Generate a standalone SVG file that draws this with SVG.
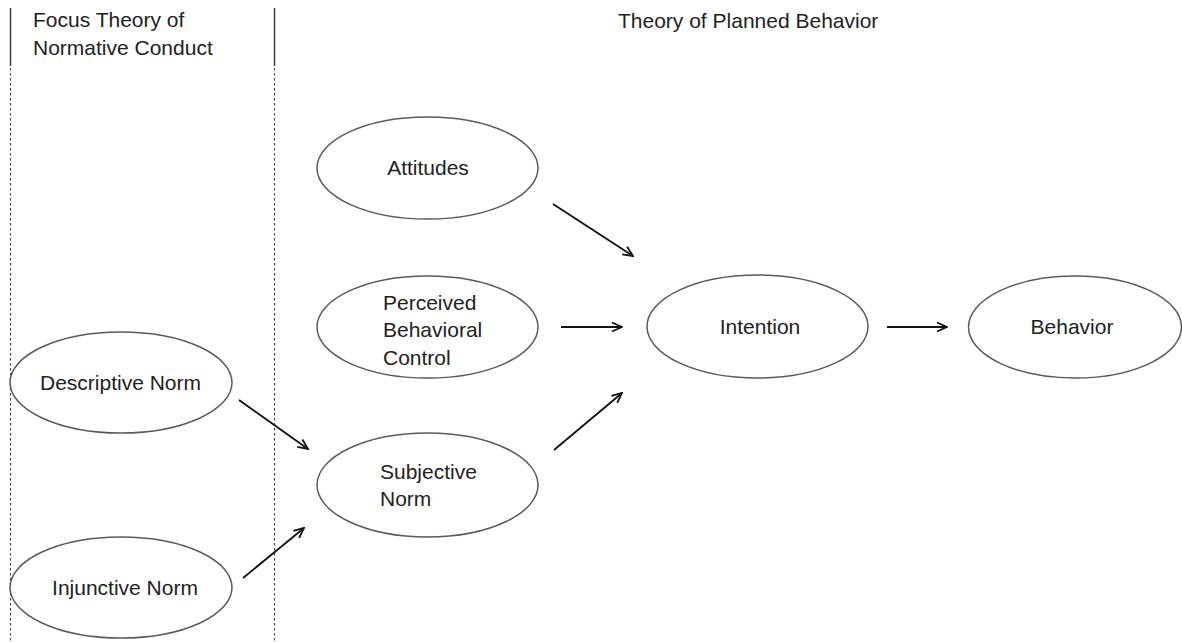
<svg xmlns="http://www.w3.org/2000/svg" width="1182" height="642" viewBox="0 0 1182 642">
  <style>
    .node { fill: #ffffff; stroke: #5a5a5a; stroke-width: 1.5; }
    .lbl { font-family: "Liberation Sans", Arial, sans-serif; font-size: 21px; fill: #222222; }
    .mid { text-anchor: middle; }
    .edge { stroke: #111111; stroke-width: 1.8; fill: none; marker-end: url(#arrow); }
    .solid { stroke: #333333; stroke-width: 1.4; }
    .dash { stroke: #444444; stroke-width: 1.1; stroke-dasharray: 2.5 2.5; }
  </style>
  <defs>
    <marker id="arrow" markerUnits="userSpaceOnUse" viewBox="0 0 12 12" refX="11" refY="6" markerWidth="12" markerHeight="12" orient="auto">
      <path d="M1,1.5 L11,6 L1,10.5" fill="none" stroke="#111111" stroke-width="1.8" stroke-linejoin="miter"/>
    </marker>
  </defs>
  <rect width="1182" height="642" fill="#ffffff"/>

  <g id="dividers">
    <line class="solid" x1="10.5" y1="8" x2="10.5" y2="66"/>
    <line class="dash" x1="10.5" y1="68" x2="10.5" y2="642"/>
    <line class="solid" x1="274.5" y1="8" x2="274.5" y2="66"/>
    <line class="dash" x1="274.5" y1="68" x2="274.5" y2="642"/>
  </g>

  <g id="headers">
    <text class="lbl" x="33" y="27">Focus Theory of</text>
    <text class="lbl" x="33" y="55">Normative Conduct</text>
    <text class="lbl" x="618" y="28" font-size="20.5">Theory of Planned Behavior</text>
  </g>

  <g id="connectors">
    <line class="edge" x1="553" y1="204" x2="633" y2="256"/>
    <line class="edge" x1="561" y1="327" x2="622" y2="327"/>
    <line class="edge" x1="554" y1="450" x2="622" y2="393"/>
    <line class="edge" x1="887" y1="327" x2="947" y2="327"/>
    <line class="edge" x1="239" y1="400" x2="308" y2="449"/>
    <line class="edge" x1="243" y1="578" x2="304" y2="528"/>
  </g>

  <g id="attitudes">
    <ellipse class="node" cx="427.5" cy="168" rx="110.5" ry="51"/>
    <text class="lbl mid" x="428" y="175">Attitudes</text>
  </g>
  <g id="perceived-behavioral-control">
    <ellipse class="node" cx="427.5" cy="327" rx="110.5" ry="51"/>
    <text class="lbl" x="383" y="310">Perceived</text>
    <text class="lbl" x="383" y="337">Behavioral</text>
    <text class="lbl" x="383" y="365">Control</text>
  </g>
  <g id="subjective-norm">
    <ellipse class="node" cx="427.5" cy="485" rx="110.5" ry="52"/>
    <text class="lbl" x="380" y="479">Subjective</text>
    <text class="lbl" x="380" y="506">Norm</text>
  </g>
  <g id="intention">
    <ellipse class="node" cx="757.5" cy="326.5" rx="110.5" ry="51.5"/>
    <text class="lbl mid" x="760" y="334">Intention</text>
  </g>
  <g id="behavior">
    <ellipse class="node" cx="1075" cy="327" rx="106.5" ry="51"/>
    <text class="lbl mid" x="1072" y="334">Behavior</text>
  </g>
  <g id="descriptive-norm">
    <ellipse class="node" cx="121" cy="382.5" rx="111" ry="50.5"/>
    <text class="lbl mid" x="120.5" y="390">Descriptive Norm</text>
  </g>
  <g id="injunctive-norm">
    <ellipse class="node" cx="121" cy="587.5" rx="111" ry="50.5"/>
    <text class="lbl mid" x="125" y="595">Injunctive Norm</text>
  </g>
</svg>
